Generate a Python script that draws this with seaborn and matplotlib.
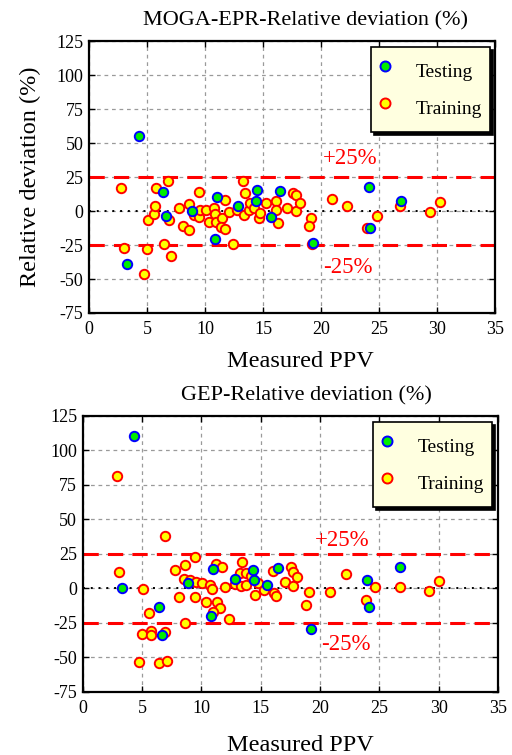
import numpy as np
import pandas as pd
import matplotlib
matplotlib.use("Agg")
import matplotlib.pyplot as plt
import seaborn as sns
from matplotlib.lines import Line2D

sns.set_style("ticks")
plt.rcParams["font.family"] = ["Liberation Serif", "DejaVu Serif"]
plt.rcParams["axes.unicode_minus"] = False
plt.rcParams["text.color"] = "black"
plt.rcParams["axes.labelcolor"] = "black"
plt.rcParams["xtick.color"] = "black"
plt.rcParams["ytick.color"] = "black"

# ---------------- data ----------------
moga_test_x = [4.3, 3.3, 6.4, 6.65, 8.9, 10.85, 11.0, 12.85, 14.4, 14.5, 15.65, 16.5, 19.3, 24.1, 24.25, 26.9]
moga_test_y = [55, -38.7, 14, -3.7, 0, -20.3, 10.1, 3.5, 7.4, 15.2, -4.4, 14.5, -23.5, 17.9, -12.2, 7.6]

moga_train_x = [2.8, 3.0, 4.7, 5.0, 5.1, 5.6, 5.7, 5.75, 6.85, 6.9, 6.45, 7.05, 7.75, 8.1, 8.6, 8.6,
                9.05, 9.5, 9.45, 9.6, 10.05, 10.35, 10.8, 10.9, 10.95, 11.45, 11.4, 11.7, 11.75, 12.1,
                12.4, 12.8, 13.25, 13.45, 13.35, 13.8, 13.9, 14.25, 14.65, 14.75, 15.3, 16.15, 16.15,
                16.3, 17.1, 17.6, 17.85, 17.85, 18.2, 19.15, 18.95, 19.2, 20.95, 22.25, 24.0, 24.85,
                26.85, 29.4, 30.25]
moga_train_y = [17, -27.2, -46.3, -27.9, -6.8, -2.2, 3.5, 17.2, 22.3, -6.8, -24.3, -33.3, 2.0, -10.7, -14.2, 5.4,
                -3.2, -4.4, 14.2, 1.0, 1.0, -8.1, 2.5, -1.9, -8.1, -4.9, -11.8, -13.2, 7.9, -1.0,
                -24.0, 0.5, 22.3, 13.2, -2.9, 0.5, 5.7, 2.2, -5.1, -1.2, 6.2, 7.4, 0.5,
                -8.8, 2.2, 13.5, 11.5, -0.3, 5.7, -5.1, -11.2, -24.5, 8.8, 3.7, -12.2, -3.7,
                4.0, -0.7, 6.6]

gep_test_x = [4.35, 3.35, 6.45, 6.65, 8.9, 11.0, 10.85, 12.8, 14.35, 14.45, 15.55, 16.45, 19.2, 23.95, 24.1, 26.75]
gep_test_y = [110.2, 0, -13.5, -34.1, 4.1, 14.1, -20.3, 6.8, 13.6, 6.3, 2.5, 14.5, -29.1, 6.1, -13.3, 15.8]

gep_train_x = [2.85, 6.9, 3.05, 5.1, 5.6, 5.0, 5.75, 5.75, 6.9, 4.75, 6.45, 7.1, 7.8, 8.65, 9.45, 8.5,
               9.05, 9.55, 10.05, 8.1, 9.5, 10.35, 8.65, 10.75, 10.9, 11.2, 11.7, 11.35, 11.6, 11.0,
               12.0, 12.35, 13.45, 13.25, 12.85, 13.35, 13.75, 13.8, 14.2, 14.75, 14.55, 15.25, 16.05,
               16.1, 16.25, 17.05, 17.55, 17.7, 17.75, 18.1, 19.05, 18.85, 20.85, 22.15, 23.85, 24.65,
               26.7, 29.2, 30.05]
gep_train_y = [81.7, 37.6, 11.6, -0.2, -17.9, -32.9, -30.7, -34.1, -31.5, -53.5, -54.0, -52.3, 13.4, 17.0, 22.8, 7.0,
               6.3, 4.9, 4.1, -6.5, -6.5, -9.9, -24.9, 2.2, -0.2, 17.7, 15.3, -9.7, -14.5, -16.9,
               1.0, -22.5, 18.9, 10.9, 3.2, 2.0, 10.9, 2.7, 9.2, 3.6, -4.6, -1.2, 12.4,
               -3.6, -5.3, 4.4, 15.8, 12.1, 1.5, 8.0, -2.9, -12.1, -2.9, 10.2, -8.4, 0.7,
               0.7, -1.7, 5.6]

x_ticks = [0, 5, 10, 15, 20, 25, 30, 35]
y_ticks = [-75, -50, -25, 0, 25, 50, 75, 100, 125]

W, H = 512, 755
fig = plt.figure(figsize=(W / 100, H / 100), dpi=100)


def px_axes(l, t, r, b):
    return fig.add_axes([l / W, 1 - b / H, (r - l) / W, (b - t) / H])


def draw(ax, tx, ty, trx, try_, title, ylabel, plus_pos, minus_pos, leg_anchor,
         title_x, xlabel_xy):
    ax.set_xlim(0, 35)
    ax.set_ylim(-75, 125)
    ax.set_xticks(x_ticks)
    ax.set_yticks(y_ticks)
    ax.grid(True, color="#9a9a9a", linestyle=(0, (3, 3)), linewidth=0.9)
    ax.axhline(25, color="red", linestyle=(0, (5, 3)), linewidth=2.2, zorder=2)
    ax.axhline(-25, color="red", linestyle=(0, (5, 3)), linewidth=2.2, zorder=2)
    ax.axhline(0, color="black", linestyle=(0, (1, 3)), linewidth=1.4, zorder=2)

    df_tr = pd.DataFrame({"x": trx, "y": try_})
    df_te = pd.DataFrame({"x": tx, "y": ty})
    sns.scatterplot(data=df_tr, x="x", y="y", ax=ax, color="#ffff00", edgecolor="#ff0000",
                    linewidth=1.4, s=46, zorder=3)
    sns.scatterplot(data=df_te, x="x", y="y", ax=ax, color="#00ee00", edgecolor="#0000ff",
                    linewidth=1.4, s=46, zorder=4)

    ax.text(plus_pos[0], plus_pos[1], "+25%", color="red", fontsize=16.5, va="center", ha="left")
    ax.text(minus_pos[0], minus_pos[1], "-25%", color="red", fontsize=16.5, va="center", ha="left")

    ax.set_title(title, fontsize=16, pad=11, x=title_x)
    ax.set_xlabel("Measured PPV", fontsize=17.5)
    ax.xaxis.set_label_coords(*xlabel_xy)
    ax.set_ylabel(ylabel, fontsize=17.5)
    ax.yaxis.set_label_coords(-0.118, 0.5)
    ax.tick_params(direction="in", length=4, width=1, labelsize=13, top=True, right=True)
    ax.tick_params(axis="x", pad=6)
    ax.tick_params(axis="y", pad=4)
    for s in ax.spines.values():
        s.set_linewidth(1.6)
        s.set_color("black")

    h1 = Line2D([], [], marker="o", linestyle="", markerfacecolor="#00ee00",
                markeredgecolor="#0000ff", markeredgewidth=1.4, markersize=7.2)
    h2 = Line2D([], [], marker="o", linestyle="", markerfacecolor="#ffff00",
                markeredgecolor="#ff0000", markeredgewidth=1.4, markersize=7.2)
    leg = ax.legend([h1, h2], ["Testing", "Training"], loc="upper right",
                    bbox_to_anchor=leg_anchor, fontsize=14, frameon=True, fancybox=False,
                    shadow={"color": "black", "alpha": 1}, facecolor="#ffffe0",
                    edgecolor="black", framealpha=1,
                    borderpad=0.4, labelspacing=0.23, handleheight=2.2,
                    handletextpad=1.3, handlelength=0.6, borderaxespad=0)
    leg.get_frame().set_linewidth(1.2)
    leg.set_zorder(10)


ax1 = px_axes(89, 41, 495, 313)
draw(ax1, moga_test_x, moga_test_y, moga_train_x, moga_train_y,
     "MOGA-EPR-Relative deviation (%)", "Relative deviation (%)",
     (20.2, 38.5), (20.2, -41.5), (0.988, 0.978), 0.534, (0.52, -0.14))

ax2 = px_axes(82.7, 415.7, 498, 692)
draw(ax2, gep_test_x, gep_test_y, gep_train_x, gep_train_y,
     "GEP-Relative deviation (%)", "",
     (19.6, 34.5), (20.1, -40.5), (0.985, 0.978), 0.538, (0.525, -0.157))

fig.savefig("out.png", dpi=100)
